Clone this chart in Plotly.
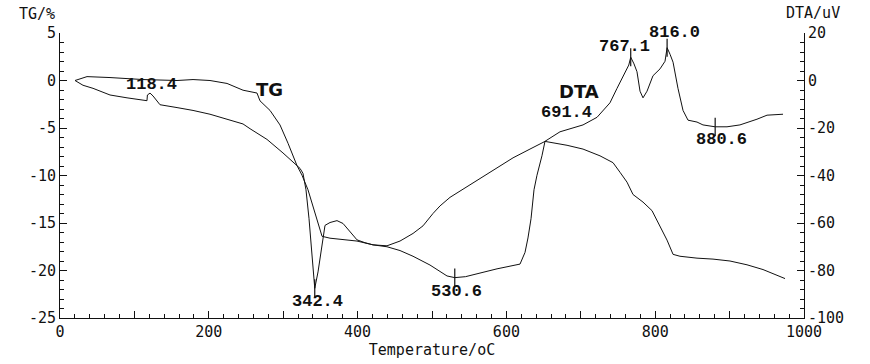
import plotly.graph_objects as go

# ---- data ----
tg_T = [20.2, 36.3, 67.2, 111.6, 157.3, 178.8, 201.6, 224.5, 246.0, 264.8, 268.8, 282.3,
        295.7, 306.5, 318.5, 325.3, 333.3, 340.1, 346.8, 352.2, 362.9, 376.3, 399.2, 409.9,
        420.7, 439.5, 457.0, 474.5, 487.9, 501.3, 510.8, 524.2, 544.4, 564.5, 587.4, 608.9,
        631.7, 651.9, 681.5, 703.0, 725.8, 743.3, 752.7, 762.1, 770.2, 783.6, 795.7, 806.5,
        815.9, 824.0, 833.3, 856.2, 877.7, 900.5, 923.4, 944.9, 974.5]
tg_val = [0.0, 0.41, 0.31, 0.10, 0.0, 0.10, 0.0, -0.31, -1.02, -1.32, -2.14, -3.15,
          -4.68, -6.61, -8.95, -9.97, -11.5, -13.2, -14.85, -16.4, -16.6, -16.7, -16.9, -17.1,
          -17.3, -17.4, -16.9, -16.1, -15.3, -14.0, -13.2, -12.3, -11.3, -10.3, -9.16, -8.14,
          -7.22, -6.41, -6.82, -7.22, -7.93, -8.65, -9.66, -10.7, -12.0, -12.8, -13.7, -15.4,
          -16.8, -18.3, -18.5, -18.7, -18.8, -19.0, -19.4, -19.9, -20.85]

dta_T = [20.2, 30.9, 44.4, 67.2, 90.1, 116.9, 117.5, 121.0, 125.0, 134.4, 157.3, 178.8,
         201.6, 224.5, 246.0, 255.4, 278.2, 299.7, 322.6, 326.6, 330.6, 334.7, 338.7, 342.4,
         346.8, 350.8, 353.5, 356.2, 362.9, 372.3, 380.4, 389.8, 399.2, 409.9, 420.7, 439.5,
         457.0, 474.5, 497.3, 520.2, 530.6, 545.0, 555.1, 587.4, 618.3, 625.0, 629.0, 633.1,
         637.1, 641.1, 647.8, 651.9, 672.0, 703.0, 721.8, 729.8, 739.2, 748.7, 756.7, 764.5,
         767.1, 771.5, 775.5, 779.6, 783.6, 789.0, 797.0, 806.5, 813.2, 816.0, 820.0, 824.0,
         830.6, 837.4, 844.1, 856.2, 864.2, 880.6, 896.5, 913.9, 936.8, 950.3, 971.8]
dta_val = [0.0, -2.0, -3.3, -6.1, -7.3, -8.5, -6.1, -5.3, -6.5, -10.2, -11.4, -12.6,
           -14.2, -16.3, -18.3, -20.3, -24.8, -30.5, -37.0, -39.1, -46.0, -58.2, -72.4, -87.5,
           -80.6, -71.6, -66.7, -61.0, -59.8, -59.0, -60.2, -63.5, -67.1, -68.3, -69.2, -70.0,
           -71.6, -74.0, -77.7, -82.3, -83.0, -82.6, -81.8, -79.3, -77.3, -72.4, -66.3, -58.2,
           -46.0, -39.9, -31.7, -25.6, -21.6, -18.7, -15.5, -12.6, -9.4, -3.3, 2.0, 6.5,
           9.8, 7.0, 3.7, -4.5, -7.3, -4.5, 2.0, 4.9, 8.1, 13.8, 11.0, 7.7,
           -3.3, -12.6, -16.7, -17.5, -18.7, -19.5, -19.5, -18.7, -16.3, -14.6, -14.2]

peak_T = [118.4, 342.4, 530.6, 691.4, 767.1, 816.0, 880.6]
peak_dta = [-6.0, -87.5, -83.0, -19.5, 9.8, 13.8, -19.5]
peak_labels = ["118.4", "342.4", "530.6", "691.4", "767.1", "816.0", "880.6"]
marked_peaks = ["342.4", "530.6", "767.1", "816.0", "880.6"]

x_ticks = [0, 100, 200, 300, 400, 500, 600, 700, 800, 900, 1000]
x_ticktext = ["0", "", "200", "", "400", "", "600", "", "800", "", "1000"]
tg_ticks = [5, 0, -5, -10, -15, -20, -25]
tg_ticktext = ["5", "0", "-5", "-10", "-15", "-20", "-25"]
dta_ticks = [20, 0, -20, -40, -60, -80, -100]
dta_ticktext = ["20", "0", "-20", "-40", "-60", "-80", "-100"]

curve_names = ["TG", "DTA"]
curve_label_pos = [(282, -1.0), (697, -1.3)]  # (temperature, TG%) anchor of the curve names

# ---- figure ----
INK = "#111111"
fig = go.Figure()
fig.add_trace(go.Scatter(x=tg_T, y=tg_val, mode="lines", name="TG",
                         line=dict(color=INK, width=1), yaxis="y"))
fig.add_trace(go.Scatter(x=dta_T, y=dta_val, mode="lines", name="DTA",
                         line=dict(color=INK, width=1), yaxis="y2"))

mk_T = [t for t, l in zip(peak_T, peak_labels) if l in marked_peaks]
mk_v = [v for v, l in zip(peak_dta, peak_labels) if l in marked_peaks]
fig.add_trace(go.Scatter(x=mk_T, y=mk_v, mode="markers", yaxis="y2",
                         marker=dict(symbol="line-ns-open", size=13, color=INK,
                                     line=dict(color=INK, width=1.2)),
                         hoverinfo="skip"))

shifts = {"118.4": (3, 10), "342.4": (3, -13), "530.6": (2, -14), "691.4": (-8, 14),
          "767.1": (-6, 11), "816.0": (7, 15), "880.6": (6, -13)}
num_font = dict(family="Liberation Mono", size=17, color=INK)
for t, v, lab in zip(peak_T, peak_dta, peak_labels):
    dx, dy = shifts[lab]
    fig.add_annotation(x=t, y=v, xref="x", yref="y2", text="<b>%s</b>" % lab,
                       showarrow=False, xshift=dx, yshift=dy, font=num_font)

for name, (t, v) in zip(curve_names, curve_label_pos):
    fig.add_annotation(x=t, y=v, xref="x", yref="y", text="<b>%s</b>" % name,
                       showarrow=False, yshift=1,
                       font=dict(family="DejaVu Sans", size=18, color=INK))

tick_font = dict(family="DejaVu Sans Mono", size=15, color=INK)
fig.add_annotation(x=0, y=1, xref="paper", yref="paper", xanchor="center", yanchor="bottom",
                   text="TG/%", showarrow=False, xshift=-23, yshift=8, font=tick_font)
fig.add_annotation(x=1, y=1, xref="paper", yref="paper", xanchor="center", yanchor="bottom",
                   text="DTA/uV", showarrow=False, xshift=9, yshift=9, font=tick_font)

fig.update_layout(
    width=870, height=364,
    margin=dict(l=60, r=66, t=33, b=36),
    paper_bgcolor="white", plot_bgcolor="white",
    showlegend=False,
    xaxis=dict(range=[0, 1000], tickvals=x_ticks, ticktext=x_ticktext,
               showgrid=False, zeroline=False, showline=True, linecolor=INK, linewidth=1,
               ticks="inside", ticklen=7, tickcolor=INK, tickfont=tick_font,
               minor=dict(dtick=20, ticks="inside", ticklen=4, tickcolor=INK),
               title=dict(text="Temperature/oC", font=tick_font, standoff=0)),
    yaxis=dict(range=[-25, 5], tickvals=tg_ticks, ticktext=tg_ticktext,
               showgrid=False, zeroline=False, showline=True, linecolor=INK, linewidth=1,
               ticks="inside", ticklen=7, tickcolor=INK, tickfont=tick_font,
               minor=dict(dtick=1, ticks="inside", ticklen=4, tickcolor=INK)),
    yaxis2=dict(range=[-100, 20], tickvals=dta_ticks, ticktext=dta_ticktext,
                overlaying="y", side="right", anchor="x",
                showgrid=False, zeroline=False, showline=True, linecolor=INK, linewidth=1,
                ticks="inside", ticklen=7, tickcolor=INK, tickfont=tick_font,
                minor=dict(dtick=4, ticks="inside", ticklen=4, tickcolor=INK)),
)

fig.write_html("out.html")
